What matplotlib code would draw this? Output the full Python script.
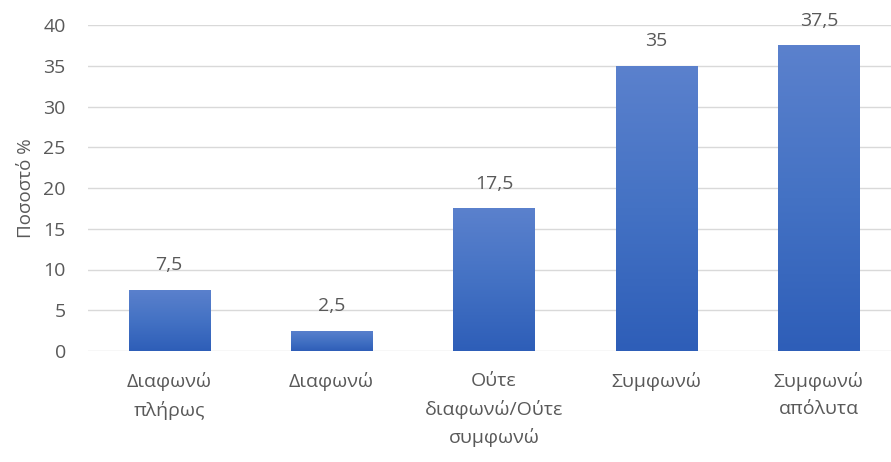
import matplotlib
matplotlib.use("Agg")
import matplotlib.pyplot as plt
import numpy as np
from matplotlib.colors import LinearSegmentedColormap
import matplotlib.patheffects as pe

categories = ["Διαφωνώ\nπλήρως", "Διαφωνώ", "Ούτε\nδιαφωνώ/Ούτε\nσυμφωνώ", "Συμφωνώ", "Συμφωνώ\nαπόλυτα"]
values = [7.5, 2.5, 17.5, 35, 37.5]
labels = ["7,5", "2,5", "17,5", "35", "37,5"]
yticks = [0, 5, 10, 15, 20, 25, 30, 35, 40]

plt.rcParams['font.family'] = ['Open Sans', 'DejaVu Sans']
txt = '#595959'
fs = 14

fig = plt.figure(figsize=(8.91, 4.62), dpi=100)
ax = fig.add_axes([88/891, 1-351/462, 812/891, (351-25)/462])

x = np.arange(len(categories))
bars = ax.bar(x, values, width=0.5, color='none', zorder=3)
cmap = LinearSegmentedColormap.from_list('g', ['#2E5EB8', '#4472C4', '#5B81CD'])
grad = np.linspace(0, 1, 256).reshape(-1, 1)
for b in bars:
    x0, y0 = b.get_x(), b.get_y()
    w, h = b.get_width(), b.get_height()
    sh = plt.Rectangle((x0, y0), w, h, facecolor='white', edgecolor='none', zorder=2,
                       path_effects=[pe.SimplePatchShadow(offset=(0, -1), shadow_rgbFace='#000000', alpha=0.25)])
    ax.add_patch(sh)
    im = ax.imshow(grad, extent=(x0, x0 + w, y0, y0 + h), origin='lower', cmap=cmap,
                   aspect='auto', zorder=3)
    im.set_clip_path(b)

for xi, v, l in zip(x, values, labels):
    ax.text(xi, v + 1.9, l, ha='center', va='bottom', fontsize=fs, color=txt)

ax.set_xlim(-0.5, len(categories) - 0.5)
ax.set_ylim(0, 40)
ax.set_yticks(yticks)
ax.set_xticks(x)
ax.set_xticklabels(categories, fontsize=fs, color=txt, va='top', linespacing=1.65)
ax.tick_params(axis='y', labelsize=fs, colors=txt, length=0, pad=16)
ax.tick_params(axis='x', length=0, pad=15)
ax.yaxis.grid(True, color='#D9D9D9', linewidth=1)
ax.set_axisbelow(True)
for s in ax.spines.values():
    s.set_visible(False)
ax.set_ylabel("Ποσοστό %", fontsize=13.5, color=txt, labelpad=6)

fig.savefig("out.png", dpi=100)
